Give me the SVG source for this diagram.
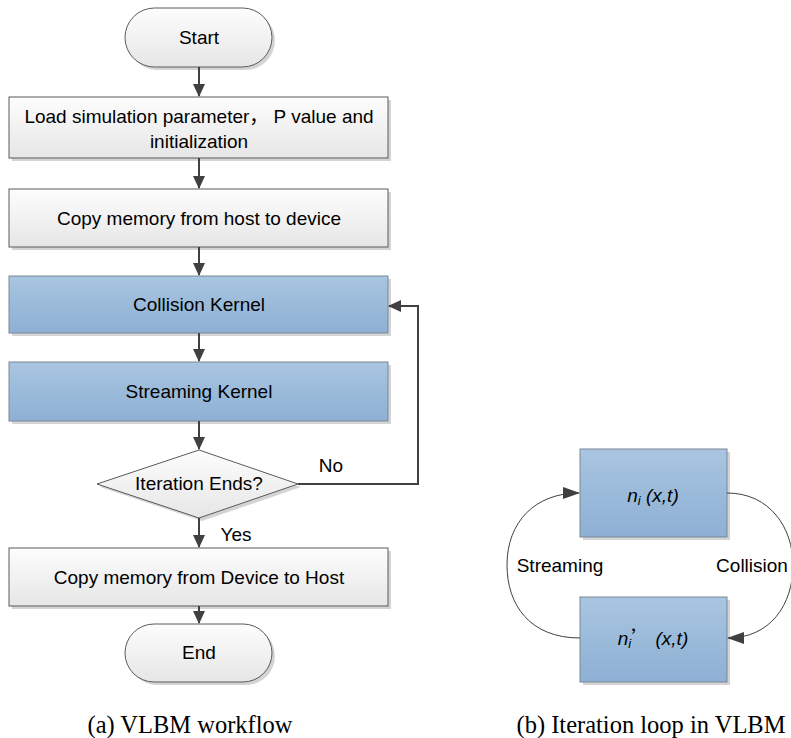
<svg xmlns="http://www.w3.org/2000/svg" width="791" height="738" viewBox="0 0 791 738">
<defs>
<linearGradient id="gGrey" x1="0" y1="0" x2="0" y2="1">
<stop offset="0" stop-color="#fdfdfd"/><stop offset="1" stop-color="#e6e6e6"/>
</linearGradient>
<linearGradient id="gBlue" x1="0" y1="0" x2="0" y2="1">
<stop offset="0" stop-color="#a9c5e1"/><stop offset="1" stop-color="#8db0d4"/>
</linearGradient>
<marker id="ah" markerWidth="13" markerHeight="12" refX="12" refY="6" orient="auto" markerUnits="userSpaceOnUse">
<path d="M0,0 L13,6 L0,12 Z" fill="#404040"/>
</marker>
<marker id="ah2" markerWidth="17" markerHeight="12" refX="16" refY="6" orient="auto" markerUnits="userSpaceOnUse">
<path d="M0,0 L17,6 L0,12 Z" fill="#404040"/>
</marker>
</defs>
<style>
.t{font-family:"Liberation Sans","Noto Sans CJK SC",sans-serif;font-size:19px;fill:#000;text-anchor:middle}
.cap{font-family:"Liberation Serif",serif;font-size:24.5px;fill:#000;text-anchor:middle}
.grey{fill:url(#gGrey);stroke:#5a5a5a;stroke-width:1}
.blue{fill:url(#gBlue);stroke:#7a8794;stroke-width:1}
.sh{fill:#d4d4d4}
.conn{fill:none;stroke:#404040;stroke-width:2;marker-end:url(#ah)}
.arc{fill:none;stroke:#404040;stroke-width:1;marker-end:url(#ah2)}
.it{font-style:italic}
</style>

<g id="start">
<rect class="sh" x="128" y="11" width="147" height="59" rx="29.5"/>
<rect class="grey" x="125" y="8" width="147" height="59" rx="29.5"/>
<text class="t" x="199" y="44">Start</text>
</g>
<g id="load">
<rect class="sh" x="12" y="100" width="379" height="61"/>
<rect class="grey" x="9" y="97" width="379" height="61"/>
<text class="t" x="199" y="123">Load simulation parameter，  P value  and</text>
<text class="t" x="199" y="148">initialization</text>
</g>
<g id="copy1">
<rect class="sh" x="12" y="192" width="379" height="58"/>
<rect class="grey" x="9" y="189" width="379" height="58"/>
<text class="t" x="199" y="225">Copy memory from host to device</text>
</g>
<g id="collision">
<rect class="sh" x="12" y="279" width="379" height="57"/>
<rect class="blue" x="9" y="276" width="379" height="57"/>
<text class="t" x="199" y="311">Collision Kernel</text>
</g>
<g id="streaming">
<rect class="sh" x="12" y="365" width="379" height="59"/>
<rect class="blue" x="9" y="362" width="379" height="59"/>
<text class="t" x="199" y="398">Streaming Kernel</text>
</g>
<g id="decision">
<polygon class="sh" points="202,453 301,487 202,521 100,487"/>
<polygon class="grey" points="199,450 298,484 199,518 97,484"/>
<text class="t" x="199" y="490">Iteration Ends?</text>
</g>
<g id="copy2">
<rect class="sh" x="12" y="551" width="379" height="58"/>
<rect class="grey" x="9" y="548" width="379" height="58"/>
<text class="t" x="199" y="584">Copy memory from Device to Host</text>
</g>
<g id="end">
<rect class="sh" x="128" y="627" width="147" height="58" rx="29"/>
<rect class="grey" x="125" y="624" width="147" height="58" rx="29"/>
<text class="t" x="199" y="659">End</text>
</g>

<g id="ni">
<rect class="sh" x="583" y="452" width="147" height="88"/>
<rect class="blue" x="580" y="449" width="147" height="88"/>
<text class="t it" x="653" y="502">n<tspan font-size="13" dy="3">i</tspan><tspan dy="-3"> (x,t)</tspan></text>
</g>
<g id="niprime">
<rect class="sh" x="583" y="600" width="147" height="85"/>
<rect class="blue" x="580" y="597" width="147" height="85"/>
<text class="t it" x="653" y="645">n<tspan font-size="13" dy="3">i</tspan><tspan dy="-3" font-style="normal" font-family="Noto Sans CJK SC,sans-serif">’</tspan> (x,t)</text>
</g>

<g id="connectors">
<line class="conn" x1="199" y1="67" x2="199" y2="96"/>
<line class="conn" x1="199" y1="158" x2="199" y2="188"/>
<line class="conn" x1="199" y1="247" x2="199" y2="275"/>
<line class="conn" x1="199" y1="333" x2="199" y2="361"/>
<line class="conn" x1="199" y1="421" x2="199" y2="449"/>
<line class="conn" x1="199" y1="518" x2="199" y2="547"/>
<line class="conn" x1="199" y1="606" x2="199" y2="623"/>
<polyline class="conn" points="298,484 418,484 418,306 389,306"/>
<path class="arc" d="M580,638 C530,638 507,605 507,565 C507,522 535,493 579,493"/>
<path class="arc" d="M727,493 C770,493 793,528 793,565 C793,605 770,638 728,638"/>
</g>

<g id="labels">
<text class="t" x="331" y="472">No</text>
<text class="t" x="236" y="541">Yes</text>
<text class="t" x="560" y="572">Streaming</text>
<text class="t" x="752" y="572">Collision</text>
<text class="cap" x="190" y="733">(a) VLBM workflow</text>
<text class="cap" x="651" y="733">(b)  Iteration loop in VLBM</text>
</g>
</svg>
